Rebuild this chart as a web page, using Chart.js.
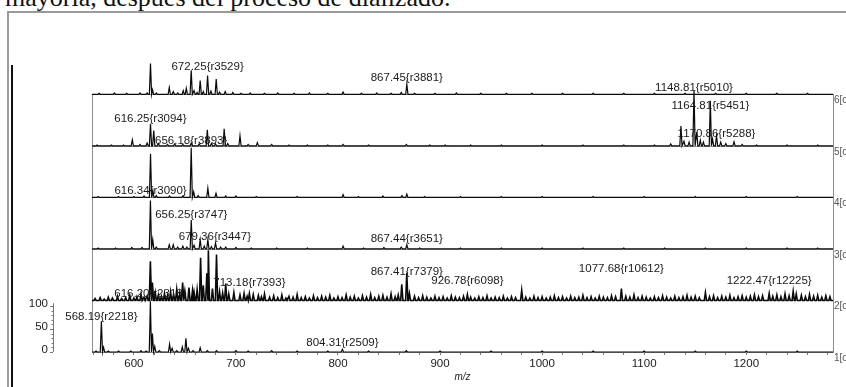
<!DOCTYPE html>
<html lang="es">
<head>
<meta charset="UTF-8">
<title>Espectros de masas apilados</title>
<script src="https://cdn.jsdelivr.net/npm/chart.js"></script>
<style>
  html, body { margin: 0; padding: 0; background: #fff; overflow: hidden; }
  body { width: 846px; height: 387px; position: relative; }
  #caption { position: absolute; left: 5px; top: -15px; font-family: "Liberation Serif", "Times New Roman", serif;
             font-size: 26px; line-height: 26px; color: #111; white-space: nowrap; }
  #frame { position: absolute; left: 7px; top: 11px; width: 850px; height: 400px;
           border-top: 2px solid #9a9a9a; border-left: 2px solid #9a9a9a; }
  #bar { position: absolute; left: 11px; top: 65px; width: 2px; height: 330px; background: #111; }
  #ms { position: absolute; left: 0; top: 0; }
</style>
</head>
<body>
<div id="caption">mayoría, después del proceso de dializado.</div>
<div id="frame"></div>
<div id="bar"></div>
<canvas id="ms" width="846" height="387"></canvas>

<script>
// peaks per spectrum: [m/z, intensity]  (bottom trace = 1)
const spec1 = [[563,2],[568.19,67],[570.3,10],[575,2],[585,2],[597,2],[607,3],[612,2],[616.2,110],[618.2,40],[620.5,12],
  [625,3],[635,17],[637.5,8],[642,3],[647.5,11],[651,30],[653.5,8],[658,3],[665,9],[672,3],[681,3],[700,3],[712,2],
  [735,3],[760,2],[790,2],[804.31,6],[830,2],[867,3],[900,2],[950,2],[1000,2],[1050,2],[1100,2],[1150,2],[1200,2],[1250,2]];

const spec2 = [[616.2,85],[618.2,39],[647.8,39],[657.5,22],[665.4,93],[671.5,59],[673,109],[681,100],[690,37],
  [713.18,15],[862.5,35],[867.41,60],[870,15],[926.78,13],[980,22],[1077.68,26],[1160,17],[1222.47,15],[1246,20],[1249,14],
  [562,4],[567,6],[571,3],[575,7],[579,5],[584,9],[588,4],[592,6],[596,11],[600,5],[603,8],[607,13],[610,7],[613,10],
  [621,17],[624,12],[627,9],[630,15],[633,11],[636,19],[639,13],[642,24],[645,16],[650,20],[654,28],[659,18],[662,24],
  [668,33],[677,26],[684,19],[687,16],[693,14],[698,17],[704,12],[708,15],[711,9],[717,13],[722,11],[725,8],[728,14],
  [733,7],[737,10],[741,6],[745,12],[749,5],[752,9],[756,7],[760,13],[764,6],[768,8],[772,5],[776,10],[780,6],[784,9],
  [788,7],[792,11],[796,5],[800,8],[804,6],[808,12],[812,7],[816,9],[820,5],[824,10],[828,7],[832,13],[836,6],[840,9],
  [844,11],[848,7],[852,14],[856,8],[859,12],[875,9],[879,6],[883,10],[887,7],[891,5],[895,9],[899,6],[903,8],[907,5],
  [911,10],[915,7],[919,6],[923,9],[930,7],[934,5],[938,8],[942,6],[946,10],[950,5],[954,7],[958,6],[962,9],[966,5],
  [970,8],[974,6],[984,7],[988,5],[992,9],[996,6],[1000,8],[1004,5],[1008,7],[1012,10],[1016,6],[1020,8],[1024,5],
  [1028,9],[1032,6],[1036,7],[1040,11],[1044,6],[1048,8],[1052,5],[1056,9],[1060,7],[1064,6],[1068,10],[1072,8],
  [1082,9],[1086,7],[1090,12],[1094,6],[1098,9],[1102,7],[1106,5],[1110,8],[1114,6],[1118,10],[1122,7],[1126,5],
  [1130,9],[1134,6],[1138,8],[1142,11],[1146,7],[1150,9],[1154,6],[1164,8],[1168,10],[1172,6],[1176,9],[1180,7],
  [1184,11],[1188,6],[1192,8],[1196,10],[1200,7],[1204,9],[1208,12],[1212,8],[1216,10],[1226,9],[1230,12],[1234,8],
  [1238,14],[1242,10],[1254,11],[1258,8],[1262,13],[1266,9],[1270,11],[1274,7],[1278,10],[1282,8]];

const spec3 = [[565,2],[582,2],[598,3],[608,3],[616.25,105],[618.5,20],[622,4],[634.7,9],[638.6,9],[643,4],[648,6],
  [652,4],[656.25,63],[659,8],[665,20],[669,6],[672.5,20],[676,5],[680,13],[685,4],[690,4],[700,3],[715,2],[740,2],
  [770,2],[805,6],[825,2],[845,3],[862,4],[867.44,9],[880,2],[920,2],[960,2],[1000,2],[1040,2],[1080,2],[1120,2],
  [1160,2],[1200,2],[1240,2],[1270,2]];

const spec4 = [[565,2],[585,2],[600,2],[610,3],[616.34,95],[618.6,15],[622,4],[635,3],[648,3],[656.2,108],[658.6,12],
  [663,4],[672.5,20],[680.5,9],[690,3],[700,3],[720,2],[760,2],[805,6],[820,2],[844,3],[862.7,4],[867.44,7],[885,2],
  [920,2],[960,2],[1000,2],[1050,2],[1100,2],[1150,2],[1200,2],[1250,2]];

const spec5 = [[564,2],[578,2],[590,2],[598.5,13],[606,3],[613,6],[616.3,48],[619.5,33],[624,5],[633,3],[640,4],[648,3],
  [656.2,6],[664,4],[672,35],[676,5],[680,4],[688.5,37],[692,5],[704,22],[712,3],[721,7],[735,3],[752,2],[770,2],
  [790,2],[805,3],[830,2],[867,3],[890,2],[905,2],[930,2],[960,2],[1000,2],[1040,2],[1080,2],[1110,2],[1126,4],
  [1136,43],[1139,10],[1144,8],[1148.81,120],[1151.5,30],[1155,12],[1158,8],[1164.81,98],[1167,15],[1170.86,22],
  [1175,8],[1180,5],[1188,9],[1196,3],[1210,2],[1240,2],[1270,2]];

const spec6 = [[566,2],[581,3],[593,2],[606,3],[613,3],[616.3,67],[618.3,10],[622,3],[634.7,15],[638.6,6],[643,3],
  [648.4,8],[651.4,13],[656.2,52],[659,8],[662,4],[665,30],[668,6],[672.25,41],[675.5,7],[680.7,33],[684,5],[689.5,6],
  [697,4],[705,2],[714,3],[728,2],[741,3],[757,2],[772,3],[790,2],[805,5],[823,2],[838,3],[852,2],[862,4],[867.45,22],
  [875,2],[895,2],[916,3],[940,2],[965,2],[990,2],[1020,2],[1050,2],[1080,2],[1110,2],[1140,2],[1170,2],[1200,2],
  [1230,2],[1260,2]];

// peak annotations: [m/z, resolution tag, label height]
const labels1 = [[568.19,'r2218',76],[804.31,'r2509',20]];
const labels2 = [[616.20,'r2318',14],[713.18,'r7393',38],[867.41,'r7379',62],[926.78,'r6098',42],[1077.68,'r10612',68],[1222.47,'r12225',42]];
const labels3 = [[656.25,'r3747',74],[679.36,'r3447',26],[867.44,'r3651',22]];
const labels4 = [[616.34,'r3090',15]];
const labels5 = [[1148.81,'r5010',127],[616.25,'r3094',59],[656.18,'r3893',10],[1164.81,'r5451',86],[1170.86,'r5288',27]];
const labels6 = [[672.25,'r3529',59],[867.45,'r3881',35]];

const traceTags = ['1[c','2[c','3[c','4[c','5[c','6[c'];
const yTicks = [0, 50, 100];

const spectra = [spec1, spec2, spec3, spec4, spec5, spec6];
const peakLabels = [labels1, labels2, labels3, labels4, labels5, labels6];

const X_MIN = 559, X_MAX = 1285;
const STEP = 112;      // vertical offset between stacked traces
const HALF = 1.1;      // half width of a stick peak in m/z

function sticks(spec, base) {
  const pts = [{x: X_MIN, y: base}];
  spec.slice().sort((a, b) => a[0] - b[0]).forEach(([m, h]) => {
    pts.push({x: m - HALF, y: base}, {x: m, y: base + h}, {x: m + HALF, y: base});
  });
  pts.push({x: X_MAX, y: base});
  return pts;
}

const datasets = spectra.map((s, i) => ({
  data: sticks(s, i * STEP),
  borderColor: '#0a0a0a',
  borderWidth: i === 1 ? 1.6 : 1.2,
  pointRadius: 0,
  tension: 0,
  fill: false,
  clip: false
}));

const stackPlugin = {
  id: 'stack',
  beforeDatasetsDraw(chart) {
    const {ctx, chartArea: a, scales: {y}} = chart;
    ctx.save();
    ctx.strokeStyle = '#8e8e8e';
    ctx.lineWidth = 1;
    const top = Math.round(y.getPixelForValue(5 * STEP)) + 0.5;
    const bot = Math.round(y.getPixelForValue(0)) + 0.5;
    ctx.strokeRect(Math.round(a.left) + 0.5, top, Math.round(a.right - a.left), bot - top);
    for (let k = 1; k < 5; k++) {
      const py = Math.round(y.getPixelForValue(k * STEP)) + 0.5;
      ctx.beginPath(); ctx.moveTo(a.left, py); ctx.lineTo(a.right, py); ctx.stroke();
    }
    ctx.restore();
  },
  afterDatasetsDraw(chart) {
    const {ctx, chartArea: a, scales: {x, y}} = chart;
    ctx.save();
    // peak labels
    ctx.font = '11.5px "Liberation Sans", Arial, sans-serif';
    ctx.fillStyle = '#1a1a1a';
    ctx.textAlign = 'center';
    ctx.textBaseline = 'middle';
    peakLabels.forEach((list, i) => {
      list.forEach(([m, r, lvl]) => {
        ctx.fillText(m.toFixed(2) + '{' + r + '}', x.getPixelForValue(m), y.getPixelForValue(i * STEP + lvl));
      });
    });
    // trace tags at right
    ctx.font = '10px "Liberation Sans", Arial, sans-serif';
    ctx.fillStyle = '#555';
    ctx.textAlign = 'left';
    traceTags.forEach((t, i) => {
      ctx.fillText(t, a.right + 1, y.getPixelForValue(i * STEP) + 6);
    });
    // small intensity axis for the bottom trace
    const ax = 53;
    const p0 = y.getPixelForValue(0), p1 = y.getPixelForValue(106);
    ctx.strokeStyle = '#777';
    ctx.lineWidth = 1;
    ctx.beginPath(); ctx.moveTo(ax + 0.5, p0); ctx.lineTo(ax + 0.5, p1); ctx.stroke();
    for (let v = 0; v <= 100; v += 10) {
      const py = Math.round(y.getPixelForValue(v)) + 0.5;
      const len = v % 50 === 0 ? 3 : 1.5;
      ctx.beginPath(); ctx.moveTo(ax, py); ctx.lineTo(ax - len, py); ctx.stroke();
    }
    ctx.font = '11.5px "Liberation Sans", Arial, sans-serif';
    ctx.fillStyle = '#1a1a1a';
    ctx.textAlign = 'right';
    yTicks.forEach(v => ctx.fillText(String(v), ax - 5, y.getPixelForValue(v) - 2));
    ctx.restore();
  }
};

new Chart(document.getElementById('ms'), {
  type: 'line',
  data: { datasets },
  options: {
    responsive: false,
    animation: false,
    layout: { padding: { left: 92, right: 13, top: 40, bottom: 0 } },
    plugins: { legend: { display: false }, tooltip: { enabled: false } },
    scales: {
      x: {
        type: 'linear',
        min: X_MIN,
        max: X_MAX,
        afterFit: s => { s.height = 35; },
        border: { color: '#8e8e8e', width: 1 },
        grid: { drawOnChartArea: false, tickLength: 3, color: '#777' },
        ticks: {
          stepSize: 20,
          includeBounds: false,
          autoSkip: false,
          maxRotation: 0,
          padding: 2,
          color: '#1a1a1a',
          font: { family: '"Liberation Sans", Arial, sans-serif', size: 11.5 },
          callback: v => (v % 100 === 0 ? String(v) : '')
        },
        title: {
          display: true,
          text: 'm/z',
          color: '#222',
          padding: { top: 0, bottom: 4 },
          font: { family: '"Liberation Sans", Arial, sans-serif', size: 10, style: 'italic' }
        }
      },
      y: { display: false, min: 0, max: 678 }
    }
  },
  plugins: [stackPlugin]
});
</script>
</body>
</html>
